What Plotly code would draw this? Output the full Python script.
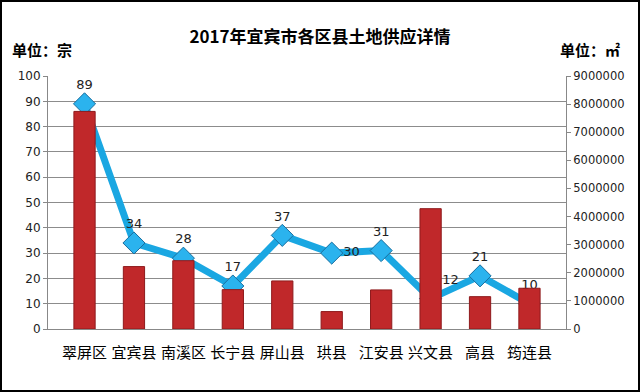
import plotly.graph_objects as go

categories = ["翠屏区", "宜宾县", "南溪区", "长宁县", "屏山县", "珙县", "江安县", "兴文县", "高县", "筠连县"]
counts = [89, 34, 28, 17, 37, 30, 31, 12, 21, 10]
areas = [7740000, 2220000, 2430000, 1400000, 1710000, 620000, 1390000, 4280000, 1150000, 1450000]
label_pos = ["top center", "top center", "top center", "top center", "top center",
             "middle right", "top center", "top right", "top center", "top center"]

left_ticks = list(range(0, 101, 10))
right_ticks = list(range(0, 9000001, 1000000))

font_family = "Noto Sans CJK SC, Noto Sans, sans-serif"
ML, MR, MT, MB = 48, 74, 76, 63

fig = go.Figure()
fig.add_trace(go.Bar(
    x=categories, y=areas, yaxis="y2", name="面积",
    marker=dict(color="#C0282A", line=dict(color="#8E1A1C", width=1)),
    width=0.43,
))
fig.add_trace(go.Scatter(
    x=categories, y=counts, yaxis="y", name="宗数",
    mode="lines+markers+text",
    line=dict(color="#1AA7E2", width=7),
    marker=dict(symbol="diamond", size=17, color="#2BB3EE",
                line=dict(color="#1A6E9E", width=1)),
    text=[str(v) for v in counts], textposition=label_pos,
    textfont=dict(size=13, color="#222222", family="DejaVu Sans, sans-serif"),
    cliponaxis=False,
))

fig.update_layout(
    width=640, height=392,
    margin=dict(l=ML, r=MR, t=MT, b=MB),
    paper_bgcolor="white", plot_bgcolor="white",
    showlegend=False,
    font=dict(family=font_family, color="#000000"),
    title=dict(text="<b>2017年宜宾市各区县土地供应详情</b>", x=0.5, xanchor="center",
               y=0.905, yanchor="middle", font=dict(size=17, family=font_family)),
    xaxis=dict(type="category", showgrid=False, showline=True, linecolor="#888888",
               tickfont=dict(size=15, family=font_family), ticks="", ticklen=0,
               ticklabelstandoff=10, automargin=False),
    yaxis=dict(range=[0, 100], tickvals=left_ticks, showgrid=True, gridcolor="#8C8C8C",
               gridwidth=1, showline=True, linecolor="#888888", ticks="outside",
               ticklen=4, tickcolor="#888888", automargin=False,
               tickfont=dict(size=12, family="DejaVu Sans, sans-serif", color="#222222"),
               zeroline=False),
    yaxis2=dict(range=[0, 9000000], tickvals=right_ticks, overlaying="y", side="right",
                showgrid=False, showline=True, linecolor="#888888", ticks="outside",
                ticklen=4, tickcolor="#888888", tickformat="d", automargin=False,
                tickfont=dict(size=11.5, family="DejaVu Sans, sans-serif", color="#222222"),
                zeroline=False),
    annotations=[
        dict(text="<b>单位：宗</b>", x=0, y=0, xref="paper", yref="paper",
             showarrow=False, font=dict(size=15, family=font_family)),
        dict(text="<b>单位：㎡</b>", x=0, y=0, xref="paper", yref="paper",
             showarrow=False, font=dict(size=15, family=font_family)),
    ],
    shapes=[dict(type="rect", xref="paper", yref="paper", x0=0, y0=0, x1=1, y1=1,
                 line=dict(width=0))],
)

pw = 640 - ML - MR
ph = 392 - MT - MB
fig.layout.annotations[0].update(x=(42 - ML) / pw, y=(392 - MB - 50) / ph,
                                 xanchor="center", yanchor="middle")
fig.layout.annotations[1].update(x=(590 - ML) / pw, y=(392 - MB - 50) / ph,
                                 xanchor="center", yanchor="middle")
fig.layout.shapes[0].update(x0=(1 - ML) / pw, x1=1 + (MR - 1) / pw,
                            y0=(1 - MB) / ph, y1=1 + (MT - 1) / ph,
                            line=dict(color="#000000", width=2))

fig.write_html("out.html", config={"displayModeBar": False},
               post_script="document.body.style.margin='0';document.body.style.overflow='hidden';")
